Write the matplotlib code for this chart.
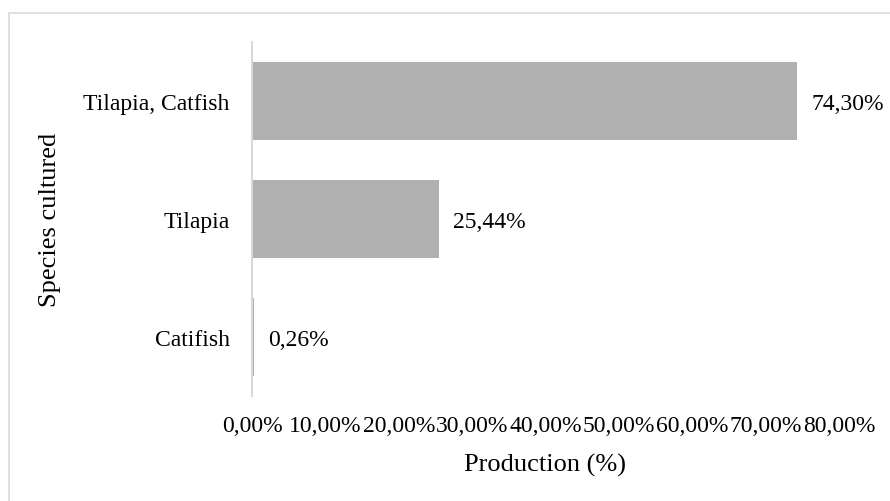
import matplotlib.pyplot as plt
from matplotlib.patches import Rectangle

# Data
species = ['Catifish', 'Tilapia', 'Tilapia, Catfish']
production = [0.26, 25.44, 74.30]
x_ticks = [0, 10, 20, 30, 40, 50, 60, 70, 80]

BAR_COLOR = '#b0b0b0'
AXIS_COLOR = '#d9d9d9'
TEXT_COLOR = '#000000'

plt.rcParams['font.family'] = ['Liberation Serif', 'DejaVu Serif']

fig = plt.figure(figsize=(8.9, 5.02), dpi=100)
fig.patch.set_facecolor('white')

# chart border (only top/left edges fall inside the picture)
fig.patches.append(Rectangle((9 / 890, -0.1), 1.2, 1 - 14 / 502 + 0.1,
                             transform=fig.transFigure, fill=False,
                             edgecolor=AXIS_COLOR, linewidth=1.2))

ax = fig.add_axes([252 / 890, 1 - 397 / 502, (839 - 252) / 890, (397 - 43) / 502])
ax.barh(species, production, height=0.66, color=BAR_COLOR)

for i, v in enumerate(production):
    ax.text(v + 2.0, i, f'{v:.2f}%'.replace('.', ','), va='center_baseline', ha='left',
            fontsize=17, color=TEXT_COLOR)

ax.set_xlim(0, 80)
ax.set_ylim(-0.5, 2.5)
ax.set_xticks(x_ticks)
ax.set_xticklabels([f'{t:.2f}%'.replace('.', ',') for t in x_ticks], fontsize=17)
ax.tick_params(axis='x', length=0, pad=14)
ax.tick_params(axis='y', length=0, pad=16, labelsize=17)

for side in ['top', 'right', 'bottom']:
    ax.spines[side].set_visible(False)
ax.spines['left'].set_color(AXIS_COLOR)
ax.spines['left'].set_linewidth(1.5)

ax.set_xlabel('Production (%)', fontsize=19, labelpad=12)
ax.set_ylabel('Species cultured', fontsize=19, labelpad=0)
ax.yaxis.set_label_coords(-0.325, 0.5)

plt.savefig('out.png', dpi=100, facecolor='white')
